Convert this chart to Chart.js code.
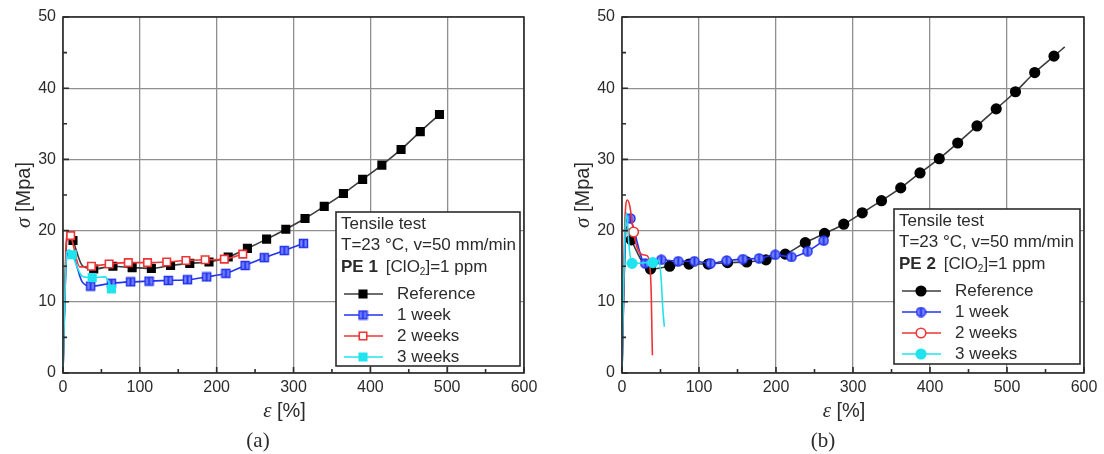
<!DOCTYPE html>
<html>
<head>
<meta charset="utf-8">
<script src="https://cdn.jsdelivr.net/npm/chart.js@4.4.1/dist/chart.umd.min.js"></script>
<style>
  html, body { margin: 0; padding: 0; background: #fff; }
  #wrap { position: relative; width: 1104px; height: 454px; }
  .panel { position: absolute; top: 0; width: 552px; height: 454px; }
</style>
</head>
<body>
<div id="wrap">
  <div class="panel" style="left:0"><canvas id="pe1" width="552" height="454"></canvas></div>
  <div class="panel" style="left:552px"><canvas id="pe2" width="552" height="454"></canvas></div>
</div>
<script>
// ── Tensile curves, σ [MPa] vs ε [%] ────────────────────────────────────────
// *_X / *_Y   : points that carry a symbol
// *_CX / *_CY : extra curve points without a symbol (elastic rise, yield, rupture)

// PE 1
const PE1_REF_X  = [13, 40, 65, 90, 115, 140, 165, 190, 215, 240, 265, 290, 315, 340, 365, 390, 415, 440, 465, 490];
const PE1_REF_Y  = [18.6, 14.6, 15.0, 14.8, 14.7, 15.1, 15.4, 15.6, 16.3, 17.5, 18.8, 20.2, 21.7, 23.4, 25.2, 27.2, 29.2, 31.4, 33.9, 36.3];
const PE1_REF_CX = [0, 2, 4, 7, 25];
const PE1_REF_CY = [0, 9, 17, 19.9, 15.1];

const PE1_W1_X  = [36, 63, 88, 112, 137, 162, 187, 212, 237, 262, 288, 313];
const PE1_W1_Y  = [12.2, 12.6, 12.8, 12.9, 13.0, 13.1, 13.5, 14.0, 15.1, 16.2, 17.2, 18.2];
const PE1_W1_CX = [0, 2, 5, 9, 14, 25];
const PE1_W1_CY = [0, 9, 16.5, 17.0, 16.3, 12.8];

const PE1_W2_X  = [10, 37, 60, 85, 110, 135, 160, 185, 210, 234];
const PE1_W2_Y  = [19.3, 15.0, 15.3, 15.5, 15.5, 15.6, 15.8, 15.9, 16.0, 16.7];
const PE1_W2_CX = [0, 2, 4, 7, 22];
const PE1_W2_CY = [0, 10, 18, 19.8, 14.9];

const PE1_W3_X  = [12, 38, 63];
const PE1_W3_Y  = [16.6, 13.4, 11.8];
const PE1_W3_CX = [0, 2, 5, 8, 25, 55, 60];
const PE1_W3_CY = [0, 9, 17, 17.3, 13.6, 13.5, 12.6];

// PE 2
const PE2_REF_X  = [12, 37, 62, 87, 112, 137, 162, 187, 212, 238, 263, 288, 312, 337, 362, 387, 412, 436, 461, 486, 511, 536, 561];
const PE2_REF_Y  = [18.7, 14.6, 15.0, 15.3, 15.3, 15.5, 15.6, 15.9, 16.7, 18.3, 19.6, 20.9, 22.5, 24.2, 26.0, 28.1, 30.1, 32.3, 34.7, 37.1, 39.5, 42.2, 44.5];
const PE2_REF_CX = [0, 2, 4, 6, 575];
const PE2_REF_CY = [0, 10, 18, 20.5, 45.8];

const PE2_W1_X  = [11, 30, 51, 73, 94, 115, 136, 157, 178, 199, 220, 241, 262];
const PE2_W1_Y  = [21.7, 15.4, 15.9, 15.7, 15.7, 15.4, 15.8, 16.0, 16.1, 16.6, 16.3, 17.1, 18.6];
const PE2_W1_CX = [0, 2, 4, 7];
const PE2_W1_CY = [0, 10, 19, 22.3];

const PE2_W2_X  = [15];
const PE2_W2_Y  = [19.8];
const PE2_W2_CX = [0, 2, 4, 7, 10, 20, 27, 32, 36, 38, 39, 39.5];
const PE2_W2_CY = [0, 12, 22, 24.3, 23.5, 17.5, 16.6, 16.5, 15.2, 11, 5, 2.5];

const PE2_W3_X  = [13, 40];
const PE2_W3_Y  = [15.4, 15.5];
const PE2_W3_CX = [0, 2, 4, 6, 9, 20, 30, 48, 51, 53, 55];
const PE2_W3_CY = [0, 12, 20, 22.5, 18, 15.4, 15.5, 15.8, 13, 9, 6.5];

const SERIES_LABELS = ["Reference", "1 week", "2 weeks", "3 weeks"];
const HEADER = ["Tensile test", "T=23 °C, v=50 mm/min"];

const SANS  = "'Liberation Sans', Arial, sans-serif";
const SERIF = "'Liberation Serif', 'Times New Roman', serif";
const INK   = "#2b2b2b";

const COLOR = {
  ref:  "#000000",
  refLine: "#3c3c3c",
  w1:   "#2233ee",
  w1Fill: "#7784ff",
  w2:   "#ee3434",
  w3:   "#1fe3ee",
};

function points(xs, ys) {
  return xs.map((x, i) => ({ x, y: ys[i] }));
}

function curve(xs, ys, cxs, cys) {
  return points(xs, ys).concat(points(cxs, cys)).sort((a, b) => a.x - b.x);
}

// blue "1 week" symbol: light fill with a dark vertical bar
function blueMark(shape) {
  const c = document.createElement("canvas");
  c.width = 11; c.height = 11;
  const g = c.getContext("2d");
  g.fillStyle = COLOR.w1Fill;
  g.strokeStyle = COLOR.w1;
  g.lineWidth = 1.5;
  g.beginPath();
  if (shape === "rect") g.rect(1.5, 1.5, 8, 8);
  else g.arc(5.5, 5.5, 4.5, 0, Math.PI * 2);
  g.fill(); g.stroke();
  g.fillStyle = COLOR.w1;
  g.fillRect(4.5, 1.5, 2, 8);
  return c;
}

function seriesSets(shape, parts) {
  const [ref, w1, w2, w3] = parts;
  const r = shape === "rect" ? 5.3 : 4.8;
  const defs = [
    { p: ref, line: COLOR.refLine, style: shape, fill: COLOR.ref, edge: COLOR.ref, order: 8 },
    { p: w1,  line: COLOR.w1, style: blueMark(shape), fill: COLOR.w1Fill, edge: COLOR.w1, order: 6 },
    { p: w2,  line: COLOR.w2, style: shape, fill: "#ffffff", edge: COLOR.w2, order: 4 },
    { p: w3,  line: COLOR.w3, style: shape, fill: COLOR.w3, edge: COLOR.w3, order: 2 },
  ];
  const out = [];
  defs.forEach((d, i) => {
    out.push({
      label: SERIES_LABELS[i] + " curve",
      data: curve(d.p[0], d.p[1], d.p[2], d.p[3]),
      showLine: true,
      borderColor: d.line,
      borderWidth: 1.6,
      pointRadius: 0,
      cubicInterpolationMode: "monotone",
      order: d.order,
    });
    out.push({
      label: SERIES_LABELS[i],
      data: points(d.p[0], d.p[1]),
      showLine: false,
      pointStyle: d.style,
      pointRadius: r,
      backgroundColor: d.fill,
      borderColor: d.edge,
      borderWidth: 1.6,
      lineColor: d.line,
      symbols: true,
      order: d.order - 1,
    });
  });
  return out;
}

function drawMark(ctx, d, x, y) {
  const st = d.pointStyle;
  if (typeof st !== "string") {
    ctx.drawImage(st, x - st.width / 2, y - st.height / 2);
    return;
  }
  ctx.beginPath();
  if (st === "rect") {
    const s = Math.SQRT1_2 * d.pointRadius;
    ctx.rect(x - s, y - s, 2 * s, 2 * s);
  } else {
    ctx.arc(x, y, d.pointRadius, 0, Math.PI * 2);
  }
  ctx.fillStyle = d.backgroundColor;
  ctx.fill();
  ctx.lineWidth = d.borderWidth;
  ctx.strokeStyle = d.borderColor;
  ctx.stroke();
}

// ── inward tick marks + dark frame round the plot ───────────────────────────
const framePlugin = {
  id: "frame",
  afterDatasetsDraw(chart) {
    const { ctx, chartArea: a, scales: { x, y } } = chart;
    ctx.save();
    ctx.strokeStyle = INK;
    ctx.lineWidth = 1.6;
    ctx.beginPath();
    for (let v = 0; v <= 600; v += 50) {
      const px = x.getPixelForValue(v);
      ctx.moveTo(px, a.bottom);
      ctx.lineTo(px, a.bottom - (v % 100 ? 4 : 6));
    }
    for (let v = 0; v <= 50; v += 5) {
      const py = y.getPixelForValue(v);
      ctx.moveTo(a.left, py);
      ctx.lineTo(a.left + (v % 10 ? 4 : 6), py);
    }
    ctx.stroke();
    ctx.strokeRect(a.left, a.top, a.right - a.left, a.bottom - a.top);
    ctx.restore();
  },
};

// ── boxed legend with the test conditions ───────────────────────────────────
const ROWS = [12, 33.5, 55, 82, 103, 124, 145];

const boxLegend = {
  id: "boxLegend",
  afterDraw(chart, args, o) {
    const { ctx, chartArea: a } = chart;
    const bx = a.right - o.right - o.width;
    const by = a.bottom - o.bottom - o.height;
    const f = o.size;
    ctx.save();
    ctx.fillStyle = "#fff";
    ctx.fillRect(bx, by, o.width, o.height);
    ctx.strokeStyle = INK;
    ctx.lineWidth = 1.6;
    ctx.strokeRect(bx, by, o.width, o.height);

    ctx.fillStyle = INK;
    ctx.textBaseline = "middle";
    ctx.textAlign = "left";
    ctx.font = `${f}px ${SANS}`;
    ctx.fillText(HEADER[0], bx + 5, by + ROWS[0]);
    ctx.fillText(HEADER[1], bx + 5, by + ROWS[1]);

    let tx = bx + 5;
    const ty = by + ROWS[2];
    ctx.font = `bold ${f}px ${SANS}`;
    ctx.fillText(o.grade, tx, ty);
    tx += ctx.measureText(o.grade).width + 8;
    ctx.font = `${f}px ${SANS}`;
    ctx.fillText("[ClO", tx, ty);
    tx += ctx.measureText("[ClO").width;
    ctx.font = `${Math.round(f * 0.6)}px ${SANS}`;
    ctx.fillText("2", tx, ty + 5);
    tx += ctx.measureText("2").width;
    ctx.font = `${f}px ${SANS}`;
    ctx.fillText("]=1 ppm", tx, ty);

    chart.data.datasets.filter((d) => d.symbols).forEach((d, i) => {
      const y = by + ROWS[3 + i];
      ctx.strokeStyle = d.lineColor;
      ctx.lineWidth = 1.6;
      ctx.beginPath();
      ctx.moveTo(bx + 8, y);
      ctx.lineTo(bx + 47, y);
      ctx.stroke();
      drawMark(ctx, d, bx + 27, y);
      ctx.fillStyle = INK;
      ctx.font = `${f}px ${SANS}`;
      ctx.fillText(d.label, bx + 61, y);
    });
    ctx.restore();
  },
};

// ── axis titles (σ, ε in italic serif) and panel caption ────────────────────
const axisText = {
  id: "axisText",
  afterDraw(chart, args, o) {
    const { ctx, chartArea: a } = chart;
    ctx.save();
    ctx.fillStyle = INK;
    ctx.textBaseline = "middle";
    ctx.textAlign = "left";

    const pair = (sym, rest, cx, cy) => {
      ctx.font = `italic 21px ${SERIF}`;
      const w1 = ctx.measureText(sym).width;
      ctx.font = `20px ${SANS}`;
      const w2 = ctx.measureText(rest).width;
      const x0 = cx - (w1 + w2) / 2;
      ctx.font = `italic 21px ${SERIF}`;
      ctx.fillText(sym, x0, cy);
      ctx.font = `20px ${SANS}`;
      ctx.fillText(rest, x0 + w1, cy);
    };

    pair("ε", " [%]", (a.left + a.right) / 2 - 9, 411);

    ctx.save();
    ctx.translate(a.left - 39, (a.top + a.bottom) / 2);
    ctx.rotate(-Math.PI / 2);
    pair("σ", " [Mpa]", 0, 0);
    ctx.restore();

    ctx.font = `21px ${SERIF}`;
    ctx.textAlign = "center";
    ctx.fillText(o.caption, o.captionX, 441);
    ctx.restore();
  },
};

function makePanel(id, datasets, yWidth, padRight, grade, caption, captionX, legend) {
  const tickFont = { family: SANS, size: 16 };
  return new Chart(document.getElementById(id), {
    type: "scatter",
    data: { datasets },
    options: {
      responsive: false,
      animation: false,
      devicePixelRatio: 1,
      layout: { padding: { top: 17, right: padRight, bottom: 0, left: 0 } },
      scales: {
        x: {
          type: "linear", min: 0, max: 600,
          ticks: { stepSize: 100, color: INK, font: tickFont, padding: 5, maxRotation: 0 },
          grid: { color: "#8f8f8f", lineWidth: 1.3, drawTicks: false },
          border: { display: false },
          afterFit: (s) => { s.height = 81; },
        },
        y: {
          type: "linear", min: 0, max: 50,
          ticks: { stepSize: 10, color: INK, font: tickFont, padding: 7 },
          grid: { color: "#8f8f8f", lineWidth: 1.3, drawTicks: false },
          border: { display: false },
          afterFit: (s) => { s.width = yWidth; },
        },
      },
      plugins: {
        legend: { display: false },
        tooltip: { enabled: false },
        boxLegend: { ...legend, grade, size: 17 },
        axisText: { caption, captionX },
      },
    },
    plugins: [framePlugin, boxLegend, axisText],
  });
}

makePanel("pe1", seriesSets("rect", [
  [PE1_REF_X, PE1_REF_Y, PE1_REF_CX, PE1_REF_CY],
  [PE1_W1_X, PE1_W1_Y, PE1_W1_CX, PE1_W1_CY],
  [PE1_W2_X, PE1_W2_Y, PE1_W2_CX, PE1_W2_CY],
  [PE1_W3_X, PE1_W3_Y, PE1_W3_CX, PE1_W3_CY],
]), 63, 28, "PE 1", "(a)", 258, { right: 4, bottom: 7, width: 184, height: 154 });

makePanel("pe2", seriesSets("circle", [
  [PE2_REF_X, PE2_REF_Y, PE2_REF_CX, PE2_REF_CY],
  [PE2_W1_X, PE2_W1_Y, PE2_W1_CX, PE2_W1_CY],
  [PE2_W2_X, PE2_W2_Y, PE2_W2_CX, PE2_W2_CY],
  [PE2_W3_X, PE2_W3_Y, PE2_W3_CX, PE2_W3_CY],
]), 70, 20, "PE 2", "(b)", 271, { right: 4, bottom: 9, width: 186, height: 155 });
</script>
</body>
</html>
